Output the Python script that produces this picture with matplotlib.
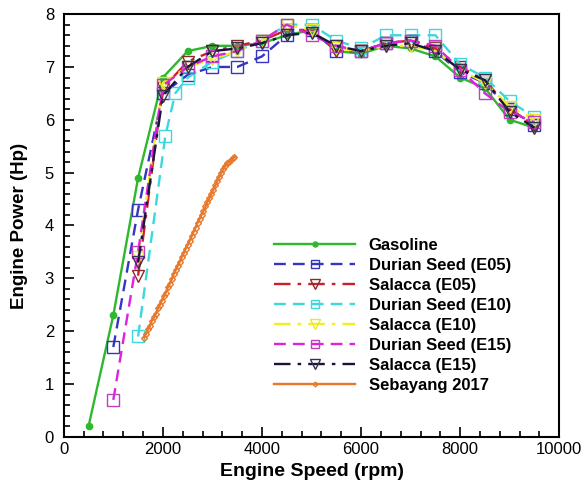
import matplotlib.pyplot as plt
from matplotlib.ticker import MultipleLocator

plt.rcParams['font.family'] = ['Liberation Sans', 'DejaVu Sans']

# data
rpm_gas = [500, 1000, 1500, 2000, 2500, 3000, 3500, 4000, 4500, 5000,
           5500, 6000, 6500, 7000, 7500, 8000, 8500, 9000, 9500]
gasoline = [0.2, 2.3, 4.9, 6.8, 7.3, 7.4, 7.4, 7.45, 7.6, 7.7,
            7.3, 7.25, 7.4, 7.35, 7.2, 6.8, 6.6, 6.0, 5.85]

rpm_d = [1000, 1500, 2000, 2500, 3000, 3500, 4000, 4500, 5000,
         5500, 6000, 6500, 7000, 7500, 8000, 8500, 9000, 9500]
durian_e05 = [1.7, 4.3, 6.5, 6.85, 7.0, 7.0, 7.2, 7.6, 7.7,
              7.3, 7.3, 7.45, 7.5, 7.3, 6.9, 6.7, 6.2, 5.9]
durian_e15 = [0.7, 3.5, 6.65, 7.0, 7.2, 7.3, 7.5, 7.8, 7.6,
              7.4, 7.3, 7.45, 7.5, 7.4, 6.95, 6.5, 6.15, 5.95]

rpm_d10 = [1500, 2050, 2250, 2500, 3000, 3500, 4000, 4500, 5000,
           5500, 6000, 6500, 7000, 7500, 8000, 8500, 9000, 9500]
durian_e10 = [1.9, 5.7, 6.5, 6.8, 7.1, 7.3, 7.5, 7.8, 7.8,
              7.5, 7.35, 7.6, 7.6, 7.6, 7.05, 6.8, 6.35, 6.05]

rpm_s = [1500, 2000, 2500, 3000, 3500, 4000, 4500, 5000,
         5500, 6000, 6500, 7000, 7500, 8000, 8500, 9000, 9500]
salacca_e05 = [3.05, 6.6, 7.1, 7.3, 7.4, 7.5, 7.7, 7.7,
               7.3, 7.3, 7.45, 7.5, 7.35, 7.0, 6.75, 6.2, 5.9]
salacca_e10 = [3.4, 6.7, 7.0, 7.15, 7.3, 7.5, 7.8, 7.7,
               7.35, 7.3, 7.4, 7.4, 7.3, 6.95, 6.7, 6.25, 6.0]
salacca_e15 = [3.3, 6.45, 7.0, 7.3, 7.35, 7.45, 7.6, 7.65,
               7.4, 7.3, 7.4, 7.45, 7.3, 6.95, 6.75, 6.15, 5.85]

rpm_seb = [1620, 1660, 1700, 1740, 1780, 1820, 1860, 1900, 1940, 1980,
           2020, 2060, 2100, 2140, 2180, 2220, 2260, 2300, 2340, 2380,
           2420, 2460, 2500, 2540, 2580, 2620, 2660, 2700, 2740, 2780,
           2820, 2860, 2900, 2940, 2980, 3020, 3060, 3100, 3140, 3180,
           3220, 3260, 3300, 3340, 3380, 3420, 3440]
sebayang = [1.88, 1.95, 2.04, 2.10, 2.20, 2.26, 2.33, 2.43, 2.50, 2.58,
            2.66, 2.73, 2.83, 2.90, 2.98, 3.08, 3.16, 3.24, 3.31, 3.40,
            3.47, 3.56, 3.63, 3.71, 3.80, 3.88, 3.96, 4.05, 4.12, 4.20,
            4.28, 4.36, 4.45, 4.52, 4.60, 4.68, 4.76, 4.85, 4.92, 5.00,
            5.07, 5.13, 5.18, 5.21, 5.24, 5.27, 5.30]

dash = (0, (5, 3))
dashdot = (0, (7, 3, 1.5, 3))

fig = plt.figure(figsize=(5.85, 4.87), dpi=100)
ax = fig.add_axes([0.109, 0.103, 0.847, 0.868])

ax.plot(rpm_gas, gasoline, color='#2db82d', lw=1.7, marker='o', ms=4.5,
        mfc='#2db82d', mec='#2db82d', label='Gasoline')
ax.plot(rpm_d, durian_e05, color='#3535c0', lw=1.7, ls=dash, marker='s', ms=8,
        mfc='none', mec='#3535c0', label='Durian Seed (E05)')
ax.plot(rpm_s, salacca_e05, color='#cc1f2a', lw=1.7, ls=dashdot, marker='v', ms=8.5,
        mfc='none', mec='#8a2a2a', label='Salacca (E05)')
ax.plot(rpm_d10, durian_e10, color='#3cd8dc', lw=1.7, ls=dash, marker='s', ms=8,
        mfc='none', mec='#3cd8dc', label='Durian Seed (E10)')
ax.plot(rpm_s, salacca_e10, color='#f0f020', lw=1.7, ls=dashdot, marker='v', ms=8.5,
        mfc='none', mec='#e8e830', label='Salacca (E10)')
ax.plot(rpm_d, durian_e15, color='#dd22dd', lw=1.7, ls=dash, marker='s', ms=8,
        mfc='none', mec='#c040c0', label='Durian Seed (E15)')
ax.plot(rpm_s, salacca_e15, color='#15153d', lw=1.7, ls=dashdot, marker='v', ms=8.5,
        mfc='none', mec='#333350', label='Salacca (E15)')
ax.plot(rpm_seb, sebayang, color='#e8782a', lw=1.7, marker='D', ms=3,
        mfc='none', mec='#e8782a', label='Sebayang 2017')

ax.set_xlim(0, 10000)
ax.set_ylim(0, 8)
ax.xaxis.set_major_locator(MultipleLocator(2000))
ax.xaxis.set_minor_locator(MultipleLocator(400))
ax.yaxis.set_major_locator(MultipleLocator(1))
ax.yaxis.set_minor_locator(MultipleLocator(0.2))
ax.tick_params(which='both', direction='in', top=False, right=False,
               labelsize=12, width=1.2)
ax.tick_params(which='major', length=7)
ax.tick_params(which='minor', length=4)
ax.tick_params(axis='y', pad=7)
ax.tick_params(axis='x', pad=4)
for s in ax.spines.values():
    s.set_linewidth(1.5)

ax.set_xlabel('Engine Speed (rpm)', fontsize=14, fontweight='bold', labelpad=4)
ax.set_ylabel('Engine Power (Hp)', fontsize=13.5, fontweight='bold', labelpad=12)

leg = ax.legend(loc='lower right', bbox_to_anchor=(0.933, 0.068), frameon=False,
                fontsize=12, handlelength=4.9, handletextpad=0.8,
                labelspacing=0.3, markerscale=0.8)
for t in leg.get_texts():
    t.set_fontweight('bold')

fig.savefig('out.png', dpi=100)
